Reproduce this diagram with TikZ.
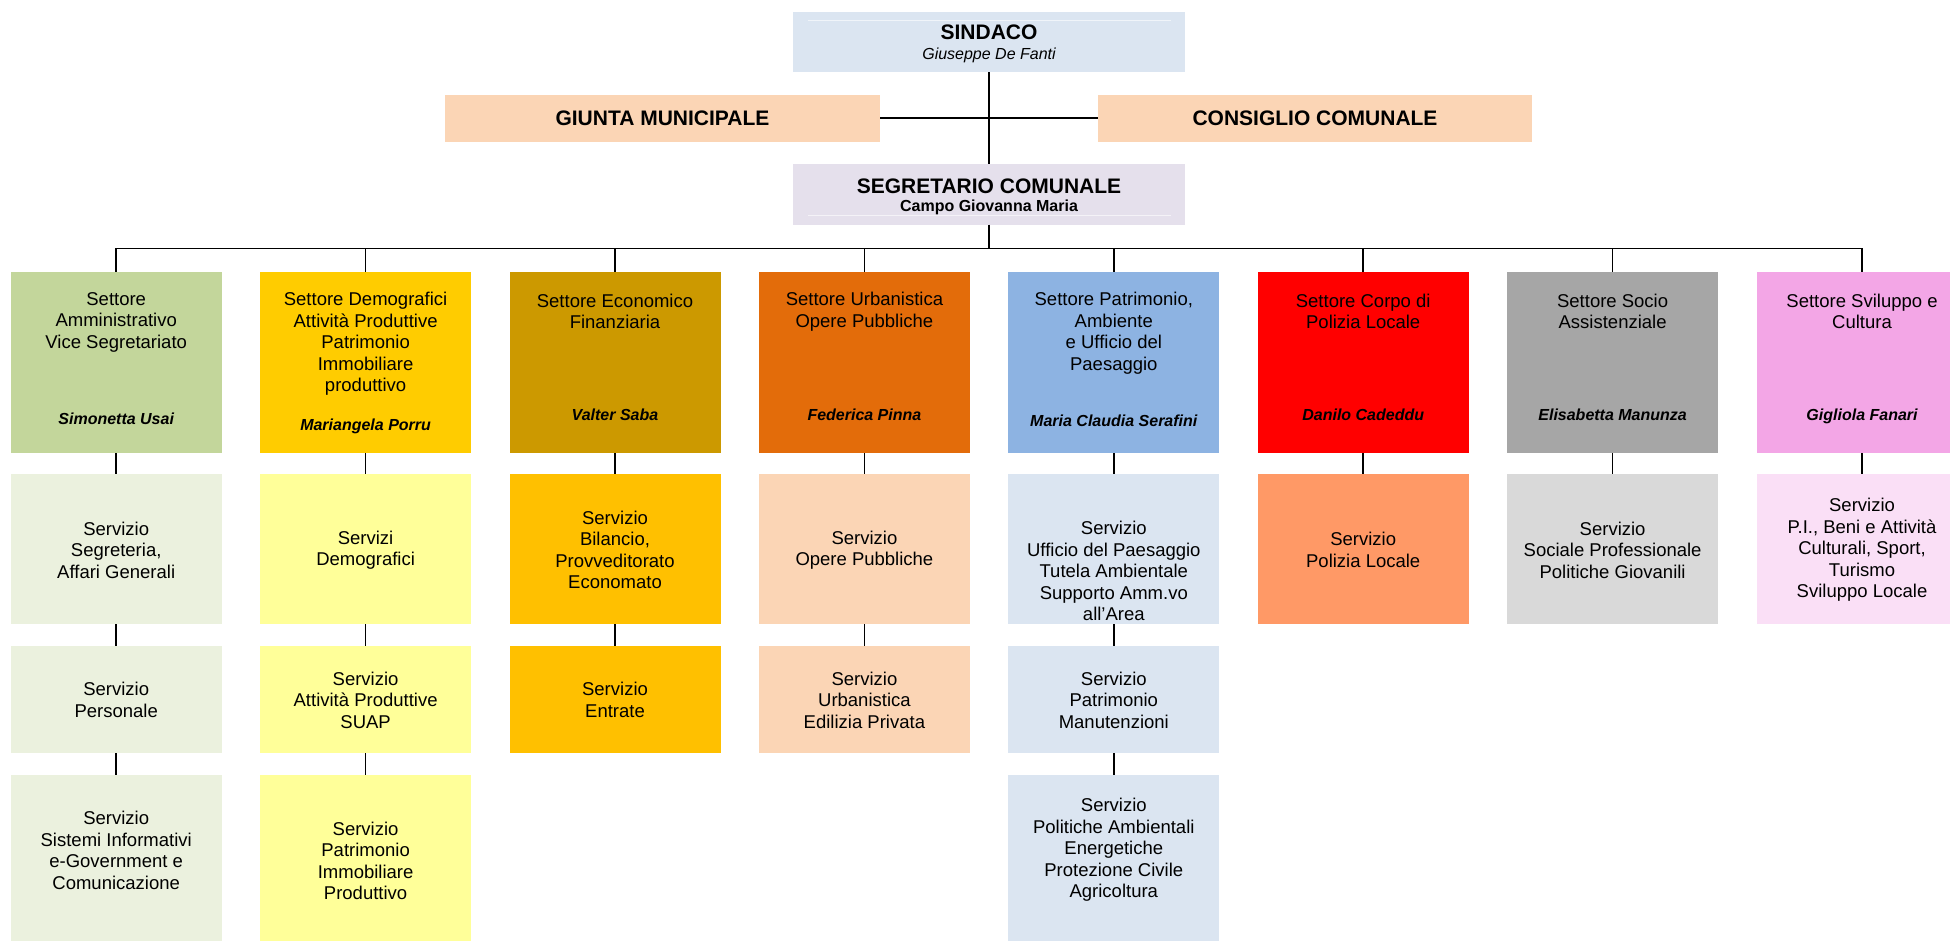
\documentclass[tikz,border=0pt]{standalone}
\usepackage{fontspec}
\setmainfont{Liberation Sans}
\definecolor{sindC}{HTML}{DBE5F1}
\definecolor{peachC}{HTML}{FBD5B5}
\definecolor{segrC}{HTML}{E5E0EC}
\definecolor{aS}{HTML}{C3D69B}\definecolor{aR}{HTML}{EBF1DE}
\definecolor{bS}{HTML}{FFCC00}\definecolor{bR}{HTML}{FFFF99}
\definecolor{cS}{HTML}{CC9900}\definecolor{cR}{HTML}{FFC000}
\definecolor{dS}{HTML}{E36C0A}\definecolor{dR}{HTML}{FBD5B5}
\definecolor{eS}{HTML}{8DB3E2}\definecolor{eR}{HTML}{DBE5F1}
\definecolor{fS}{HTML}{FF0000}\definecolor{fR}{HTML}{FF9966}
\definecolor{gS}{HTML}{A6A6A6}\definecolor{gR}{HTML}{D9D9D9}
\definecolor{hS}{HTML}{F3A6E6}\definecolor{hR}{HTML}{FADFF6}
\begin{document}
\begin{tikzpicture}[x=1pt,y=-1pt,
  orgbox/.style={rectangle, draw=none, inner sep=0pt, minimum width=211pt},
  topbox/.style={rectangle, draw=none, inner sep=0pt},
  body/.style={inner sep=0pt, align=center, font=\fontsize{18.5}{21.5}\selectfont},
  ttl/.style={inner sep=0pt, anchor=base, font=\fontsize{21}{24}\selectfont\bfseries},
  subt/.style={inner sep=0pt, anchor=base, font=\fontsize{16}{19}\selectfont},
  nm/.style={inner sep=0pt, anchor=base, font=\fontsize{16}{19}\selectfont\bfseries\itshape},
  conn/.style={line width=1.5pt, black},
  srow/.style={orgbox, minimum height=181pt},
  rtwo/.style={orgbox, minimum height=150pt},
  rthree/.style={orgbox, minimum height=107pt},
  rfour/.style={orgbox, minimum height=170pt}]
\useasboundingbox[fill=white] (0,0) rectangle (1950,941);

% top boxes
\node[topbox, fill=sindC, minimum width=392pt, minimum height=60pt] (sind) at (989,42) {};
\draw[white, line width=1pt, opacity=0.6] (808,20.7) -- (1171,20.7);
\node[ttl] (sindT) at (989,39.5) {SINDACO};
\node[subt, font=\fontsize{16}{19}\selectfont\itshape] (sindN) at (989,60) {Giuseppe De Fanti};

\node[topbox, fill=peachC, minimum width=435pt, minimum height=47pt,
      font=\fontsize{21}{24}\selectfont\bfseries] (giunta) at (662.5,118.5) {GIUNTA MUNICIPALE};
\node[topbox, fill=peachC, minimum width=434pt, minimum height=47pt,
      font=\fontsize{21}{24}\selectfont\bfseries] (cons) at (1315,118.5) {CONSIGLIO COMUNALE};

\node[topbox, fill=segrC, minimum width=392pt, minimum height=60.5pt] (segr) at (989,194.3) {};
\draw[white, line width=1pt, opacity=0.6] (808,216) -- (1171,216);
\node[ttl] (segrT) at (989,193.3) {SEGRETARIO COMUNALE};
\node[subt, font=\fontsize{16}{19}\selectfont\bfseries] (segrN) at (989,211.7) {Campo Giovanna Maria};

% settore boxes
\node[srow, fill=aS] (s1) at (116.2,362.5) {};
\node[srow, fill=bS] (s2) at (365.6,362.5) {};
\node[srow, fill=cS] (s3) at (615,362.5) {};
\node[srow, fill=dS] (s4) at (864.4,362.5) {};
\node[srow, fill=eS] (s5) at (1113.8,362.5) {};
\node[srow, fill=fS] (s6) at (1363.2,362.5) {};
\node[srow, fill=gS] (s7) at (1612.6,362.5) {};
\node[srow, fill=hS] (s8) at (1862,362.5) {};

\node[body] (s1t) at (116.2,322.3) {Settore\\Amministrativo\\Vice Segretariato};
\node[body] (s2t) at (365.6,343.8) {Settore Demografici\\Attività Produttive\\Patrimonio\\Immobiliare\\produttivo};
\node[body] (s3t) at (615,311.6) {Settore Economico\\Finanziaria};
\node[body] (s4t) at (864.4,311.6) {Settore Urbanistica\\Opere Pubbliche};
\node[body] (s5t) at (1113.8,333.1) {Settore Patrimonio,\\Ambiente\\e Ufficio del\\Paesaggio};
\node[body] (s6t) at (1363.2,311.6) {Settore Corpo di\\Polizia Locale};
\node[body] (s7t) at (1612.6,311.6) {Settore Socio\\Assistenziale};
\node[body] (s8t) at (1862,311.6) {Settore Sviluppo e\\Cultura};

\node[nm] (s1n) at (116.2,424) {Simonetta Usai};
\node[nm] (s2n) at (365.6,430) {Mariangela Porru};
\node[nm] (s3n) at (615,420.7) {Valter Saba};
\node[nm] (s4n) at (864.4,420.7) {Federica Pinna};
\node[nm] (s5n) at (1113.8,426.7) {Maria Claudia Serafini};
\node[nm] (s6n) at (1363.2,420.7) {Danilo Cadeddu};
\node[nm] (s7n) at (1612.6,420.7) {Elisabetta Manunza};
\node[nm] (s8n) at (1862,420.7) {Gigliola Fanari};

% row 2
\node[rtwo, fill=aR] (a2) at (116.2,549) {};
\node[rtwo, fill=bR] (b2) at (365.6,549) {};
\node[rtwo, fill=cR] (c2) at (615,549) {};
\node[rtwo, fill=dR] (d2) at (864.4,549) {};
\node[rtwo, fill=eR] (e2) at (1113.8,549) {};
\node[rtwo, fill=fR] (f2) at (1363.2,549) {};
\node[rtwo, fill=gR] (g2) at (1612.6,549) {};
\node[rtwo, fill=hR] (h2) at (1862,549) {};

\node[body] (a2t) at (116.2,550) {Servizio\\Segreteria,\\Affari Generali};
\node[body] (b2t) at (365.6,550) {Servizi\\Demografici};
\node[body] (c2t) at (615,550) {Servizio\\Bilancio,\\Provveditorato\\Economato};
\node[body] (d2t) at (864.4,550) {Servizio\\Opere Pubbliche};
\node[body] (e2t) at (1113.8,571) {Servizio\\Ufficio del Paesaggio\\Tutela Ambientale\\Supporto Amm.vo\\all’Area};
\node[body] (f2t) at (1363.2,550) {Servizio\\Polizia Locale};
\node[body] (g2t) at (1612.6,550) {Servizio\\Sociale Professionale\\Politiche Giovanili};
\node[body] (h2t) at (1862,550) {Servizio\\P.I., Beni e Attività\\Culturali, Sport,\\Turismo\\Sviluppo Locale};

% row 3
\node[rthree, fill=aR] (a3) at (116.2,699.5) {};
\node[rthree, fill=bR] (b3) at (365.6,699.5) {};
\node[rthree, fill=cR] (c3) at (615,699.5) {};
\node[rthree, fill=dR] (d3) at (864.4,699.5) {};
\node[rthree, fill=eR] (e3) at (1113.8,699.5) {};

\node[body] (a3t) at (116.2,700) {Servizio\\Personale};
\node[body] (b3t) at (365.6,700) {Servizio\\Attività Produttive\\SUAP};
\node[body] (c3t) at (615,700) {Servizio\\Entrate};
\node[body] (d3t) at (864.4,700) {Servizio\\Urbanistica\\Edilizia Privata};
\node[body] (e3t) at (1113.8,700) {Servizio\\Patrimonio\\Manutenzioni};

% row 4
\node[rfour, fill=aR] (a4) at (116.2,860) {};
\node[rfour, fill=bR] (b4) at (365.6,860) {};
\node[rfour, fill=eR] (e4) at (1113.8,860) {};

\node[body] (a4t) at (116.2,850.5) {Servizio\\Sistemi Informativi\\e-Government e\\Comunicazione};
\node[body] (b4t) at (365.6,861) {Servizio\\Patrimonio\\Immobiliare\\Produttivo};
\node[body] (e4t) at (1113.8,850) {Servizio\\Politiche Ambientali\\Energetiche\\Protezione Civile\\Agricoltura};

% connectors
\coordinate (bus) at (989,248.5);
\draw[conn] (sind.south) -- (segr.north);
\draw[conn, line width=2pt] (giunta.east) -- (cons.west);
\draw[conn] (segr.south) -- (bus);
\foreach \s in {s1,s2,s3,s4,s5,s6,s7,s8}{
  \draw[conn, line join=miter] (\s.north) |- (bus);
}
\draw[conn] (s1.south) -- (a2.north);
\draw[conn] (a2.south) -- (a3.north);
\draw[conn] (a3.south) -- (a4.north);
\draw[conn] (s2.south) -- (b2.north);
\draw[conn] (b2.south) -- (b3.north);
\draw[conn] (b3.south) -- (b4.north);
\draw[conn] (s3.south) -- (c2.north);
\draw[conn] (c2.south) -- (c3.north);
\draw[conn] (s4.south) -- (d2.north);
\draw[conn] (d2.south) -- (d3.north);
\draw[conn] (s5.south) -- (e2.north);
\draw[conn] (e2.south) -- (e3.north);
\draw[conn] (e3.south) -- (e4.north);
\draw[conn] (s6.south) -- (f2.north);
\draw[conn] (s7.south) -- (g2.north);
\draw[conn] (s8.south) -- (h2.north);
\end{tikzpicture}
\end{document}
